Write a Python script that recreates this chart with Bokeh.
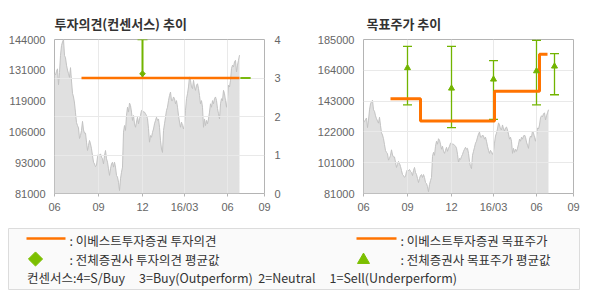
import numpy as np
from bokeh.plotting import figure
from bokeh.models import Range1d, LinearAxis, FixedTicker, Grid
from bokeh.layouts import column, row
from bokeh.embed import file_html
from bokeh.resources import INLINE
from bokeh.core.properties import value

# ---------------- data ----------------
price_k = [
    130, 129.5, 131, 132, 125.5, 130.5, 137.5, 141.5, 143, 144,
    137.5, 136.5, 133.5, 131.5, 130, 128.5, 132.5, 127, 122, 120.5,
    118, 114, 110, 108.8, 107.8, 103.5, 104.7, 106.8, 110.5, 107,
    105.7, 105.7, 102, 98.6, 100.6, 102.7, 101.3, 99.3, 96.5, 93.8,
    93.1, 92, 92.5, 95.9, 97.2, 96.5, 97.2, 95.9, 95.2, 93.1,
    96.5, 98.6, 95.2, 93.8, 91.1, 88.4, 91.1, 93.1, 93.8, 91.8,
    93.8, 91.8, 88.4, 87.7, 85.6, 82.2, 87, 89.7, 91.8, 106.1,
    108.8, 106.8, 112.9, 116.3, 114.3, 118, 117, 114.3, 110.9, 112.9,
    109.5, 108.1, 110.2, 112.2, 109.5, 111.6, 112.9, 115, 115, 114.3,
    114.3, 113.6, 112.9, 111.6, 107.5, 102, 104.7, 104, 106, 107.4,
    109.5, 110.9, 112.2, 110.9, 111.5, 108.1, 102.6, 99.2, 97.8, 106.8,
    109.5, 112.2, 115, 116.3, 119, 121.1, 122.5, 119, 119, 120.5,
    119.8, 117.7, 119, 116.3, 112.9, 110.2, 108.1, 110.2, 108.8, 107.4,
    109.5, 115, 119.8, 121.8, 124.6, 128.7, 127.3, 124.6, 123.9, 127.3,
    124.6, 123.2, 125.3, 125.9, 123.9, 121.1, 117.7, 119, 116.3, 108.1,
    111.5, 108.8, 110.9, 109.5, 111.5, 114.3, 117.7, 116.3, 119, 117.7,
    119.8, 120.5, 119, 115.7, 113.6, 111.5, 117.7, 119.8, 119, 123.2,
    121.8, 119, 116.3, 119.8, 125.3, 124.6, 127.3, 132.1, 133.5, 132.8,
    134.8, 135.5, 130.7, 133.5, 135.5, 137.6,
]
price = [v * 1000 for v in price_k]
day_idx = list(range(len(price)))

x_ticks = [0, 44, 88, 130, 173, 210]
x_labels = ["06", "09", "12", "16/03", "06", "09"]

op_ticks = [0, 1, 2, 3, 4]
left_ticks = [81000, 93600, 106200, 118800, 131400, 144000]
left_labels = ["81000", "93000", "106000", "119000", "131000", "144000"]
right_ticks = [81000, 101800, 122600, 143400, 164200, 185000]
right_labels = ["81000", "101000", "122000", "143000", "164000", "185000"]

# eBest opinion (3 = Buy)
opinion_x = [27, 185]
opinion_y = [3, 3]

# consensus opinion range / average
cons_op_x = [88, 191]
cons_op_lo = [3, 3]
cons_op_hi = [4, 3]
cons_op_avg = [3.11, np.nan]

# eBest target price (step)
target_x = [27, 57, 131, 176, 184]
target_y = [145000, 130000, 150000, 175000, 175000]

# consensus target price range / average
cons_tp_x = [44, 88, 130, 173, 191]
cons_tp_lo = [140900, 125500, 131000, 140900, 147700]
cons_tp_hi = [180300, 180300, 170800, 184500, 175500]
cons_tp_avg = [165800, 152000, 158100, 163700, 166900]

# ---------------- style ----------------
ORANGE = "#ff7300"
GREEN = "#72b400"
AREA = "#e0e0e0"
EDGE = "#c2c2c2"
FRAME = "#b4b4b4"
GRID = "#e9e9e9"
TICKC = "#666666"
FONT = "Liberation Sans"
KFONT = "Noto Sans CJK KR"
NB = "\u00a0"


def base(title, left, right, title_offset=0):
    p = figure(width=left + 210 + right, height=220, output_backend="svg",
               toolbar_location=None, x_range=Range1d(0, 210),
               min_border_left=left, min_border_right=right,
               min_border_top=39, min_border_bottom=27)
    p.title.text = title
    p.title.text_font = KFONT
    p.title.text_font_size = "13px"
    p.title.text_font_style = "bold"
    p.title.text_color = "#333333"
    p.title.align = "left"
    p.title.offset = title_offset
    p.title.standoff = 14
    p.outline_line_color = FRAME
    p.outline_line_width = 1
    p.background_fill_color = "white"
    p.border_fill_color = "white"
    xa = p.xaxis[0]
    xa.ticker = FixedTicker(ticks=x_ticks)
    xa.major_label_overrides = {t: l for t, l in zip(x_ticks, x_labels)}
    xa.axis_line_color = None
    xa.major_tick_line_color = FRAME
    xa.major_tick_out = 3
    xa.major_tick_in = 0
    xa.minor_tick_line_color = None
    xa.major_label_standoff = 4
    xa.major_label_text_font = FONT
    xa.major_label_text_font_size = "11px"
    xa.major_label_text_color = TICKC
    ya = p.yaxis[0]
    ya.axis_line_color = None
    ya.major_tick_line_color = None
    ya.minor_tick_line_color = None
    ya.major_label_standoff = 3
    ya.major_label_text_font = FONT
    ya.major_label_text_font_size = "11px"
    ya.major_label_text_color = TICKC
    p.xgrid.ticker = FixedTicker(ticks=x_ticks)
    p.xgrid.grid_line_color = GRID
    # price area underneath grid
    p.varea(x=day_idx, y1=81000, y2=price, fill_color=AREA, level="image")
    p.line(x=day_idx, y=price, line_color=EDGE, line_width=1, level="image")
    return p


# ---------- chart 1: opinion ----------
p1 = base("투자의견(컨센서스) 추이", 54, 31)
p1.y_range = Range1d(81000, 144000)
p1.yaxis[0].ticker = FixedTicker(ticks=left_ticks)
p1.yaxis[0].major_label_overrides = {t: l for t, l in zip(left_ticks, left_labels)}
p1.ygrid.visible = False
p1.extra_y_ranges = {"op": Range1d(0, 4)}
ax_r = LinearAxis(y_range_name="op", ticker=FixedTicker(ticks=op_ticks))
ax_r.axis_line_color = None
ax_r.major_tick_line_color = None
ax_r.minor_tick_line_color = None
ax_r.major_label_standoff = 4
ax_r.major_label_text_font = FONT
ax_r.major_label_text_font_size = "11px"
ax_r.major_label_text_color = TICKC
p1.add_layout(ax_r, "right")
p1.add_layout(Grid(dimension=1, ticker=FixedTicker(ticks=op_ticks), y_range_name="op",
                   grid_line_color=GRID))

p1.segment(x0=cons_op_x, y0=cons_op_lo, x1=cons_op_x, y1=cons_op_hi,
           line_color=GREEN, line_width=2, y_range_name="op")
p1.scatter(x=cons_op_x, y=cons_op_hi, marker="dash", size=10, line_color=GREEN,
           line_width=1.5, y_range_name="op")
p1.scatter(x=cons_op_x, y=cons_op_lo, marker="dash", size=10, line_color=GREEN,
           line_width=1.5, y_range_name="op")
p1.line(x=opinion_x, y=opinion_y, line_color=ORANGE, line_width=2.5, y_range_name="op")
p1.scatter(x=cons_op_x, y=cons_op_avg, marker="square", angle=np.pi / 4, size=4,
           fill_color=GREEN, line_color=GREEN, y_range_name="op")

# ---------- chart 2: target price ----------
p2 = base("목표주가 추이", 68, 17, title_offset=3)
p2.y_range = Range1d(81000, 185000)
p2.yaxis[0].ticker = FixedTicker(ticks=right_ticks)
p2.yaxis[0].major_label_overrides = {t: l for t, l in zip(right_ticks, right_labels)}
p2.ygrid.ticker = FixedTicker(ticks=right_ticks)
p2.ygrid.grid_line_color = GRID

p2.segment(x0=cons_tp_x, y0=cons_tp_lo, x1=cons_tp_x, y1=cons_tp_hi,
           line_color=GREEN, line_width=1.3)
p2.scatter(x=cons_tp_x, y=cons_tp_hi, marker="dash", size=9, line_color=GREEN, line_width=1.3)
p2.scatter(x=cons_tp_x, y=cons_tp_lo, marker="dash", size=9, line_color=GREEN, line_width=1.3)
p2.step(x=target_x, y=target_y, mode="after", line_color=ORANGE, line_width=3)
p2.scatter(x=cons_tp_x, y=cons_tp_avg, marker="triangle", size=6, fill_color=GREEN,
           line_color=GREEN)

# ---------- legend panel ----------
p3 = figure(width=590, height=80, output_backend="svg", toolbar_location=None,
            x_range=Range1d(0, 571), y_range=Range1d(61, 0),
            x_axis_type=None, y_axis_type=None,
            min_border_left=8, min_border_right=11, min_border_top=8, min_border_bottom=11)
p3.grid.visible = False
p3.background_fill_color = "#fafafa"
p3.border_fill_color = "white"
p3.outline_line_color = "#dcdcdc"

leg_line_y = 10
leg_rows = [11.5, 30.5, 49]
p3.segment(x0=[18, 348], y0=[leg_line_y] * 2, x1=[57, 388], y1=[leg_line_y] * 2,
           line_color=ORANGE, line_width=2.5)
p3.scatter(x=[27], y=[leg_rows[1]], marker="square", angle=np.pi / 4, size=10,
           fill_color="#7cbf00", line_color="#7cbf00")
p3.scatter(x=[355], y=[leg_rows[1] + 1], marker="triangle", size=12, fill_color="#7cbf00",
           line_color="#7cbf00")
leg_texts = [": 이베스트투자증권 투자의견", ": 전체증권사 투자의견 평균값",
             ": 이베스트투자증권 목표주가", ": 전체증권사 목표주가 평균값"]
p3.text(x=[61, 61, 392, 392], y=[leg_rows[0], leg_rows[1], leg_rows[0], leg_rows[1]],
        text=leg_texts, text_font=value(KFONT), text_font_size="12.5px",
        text_color="#333333", text_baseline="middle")
cons_note = ("컨센서스:4=S/Buy" + NB * 5 + "3=Buy(Outperform)" + NB * 2 + "2=Neutral"
             + NB * 5 + "1=Sell(Underperform)")
p3.text(x=[18.5], y=[leg_rows[2]], text=[cons_note], text_font=value(KFONT),
        text_font_size="12.5px", text_color="#333333", text_baseline="middle")

layout = column(row(p1, p2), p3)
open("out.html", "w").write(file_html(layout, INLINE))
